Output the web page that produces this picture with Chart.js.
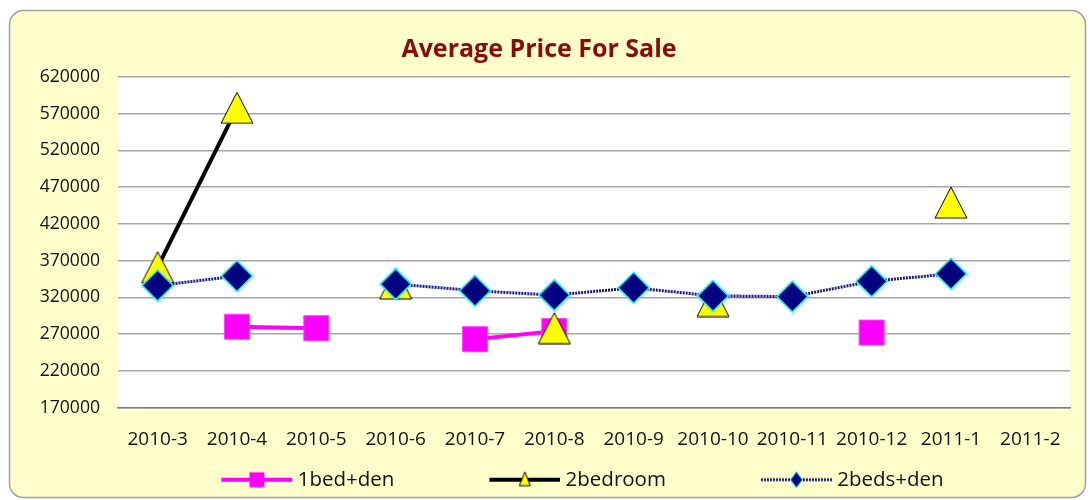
<!DOCTYPE html>
<html><head><meta charset="utf-8">
<script src="https://cdn.jsdelivr.net/npm/chart.js@4.4.0/dist/chart.umd.min.js"></script>
<style>html,body{margin:0;padding:0;background:#fff;overflow:hidden}#wrap{position:absolute;left:0;top:0;width:1090px;height:500px}</style>
</head><body><div id="wrap"><canvas id="c" width="1090" height="500"></canvas></div>
<script>
const categories = ['2010-3','2010-4','2010-5','2010-6','2010-7','2010-8','2010-9','2010-10','2010-11','2010-12','2011-1','2011-2'];
const oneBedDen  = [null, 280000, 278000, null, 263000, 274000, null, null, null, 272000, null, null];
const twoBedroom = [361000, 578000, null, 339000, null, 278000, null, 315000, null, null, 449000, null];
const twoBedsDen = [336000, 349000, null, 338000, 329000, 323000, 333000, 322000, 321000, 342000, 352000, null];
const seriesNames = ['1bed+den', '2bedroom', '2beds+den'];
const chartTitle = 'Average Price For Sale';
const yMin = 170000, yMax = 620000, yStep = 50000;

Chart.defaults.font.family = "'Open Sans', 'DejaVu Sans', sans-serif";

function makeCanvas(w, h, draw) { const c = document.createElement('canvas'); c.width = w; c.height = h; draw(c.getContext('2d')); return c; }

const triMarker = makeCanvas(34, 33, g => {
  g.beginPath(); g.moveTo(17, 1); g.lineTo(33, 32); g.lineTo(1, 32); g.closePath();
  g.fillStyle = '#FFFF00'; g.fill(); g.lineWidth = 1; g.strokeStyle = '#000'; g.stroke();
});

const LW = 163, LH = 24, S0 = LW - 71;
function legendImg(lineFn, markFn) {
  return makeCanvas(LW, LH, g => { lineFn(g, S0, LW, LH / 2); markFn(g, S0 + 35.5, LH / 2); });
}
const legImgs = [
  legendImg((g, a, b, y) => { g.strokeStyle = '#FF00FF'; g.lineWidth = 4; g.beginPath(); g.moveTo(a, y); g.lineTo(b, y); g.stroke(); },
            (g, x, y) => { g.fillStyle = '#FF00FF'; g.fillRect(x - 7.5, y - 7.5, 15, 15); }),
  legendImg((g, a, b, y) => { g.strokeStyle = '#000'; g.lineWidth = 4; g.beginPath(); g.moveTo(a, y); g.lineTo(b, y); g.stroke(); },
            (g, x, y) => { g.beginPath(); g.moveTo(x, y - 8); g.lineTo(x + 5.5, y + 6); g.lineTo(x - 5.5, y + 6); g.closePath(); g.fillStyle = '#FFFF00'; g.fill(); g.strokeStyle = '#000'; g.lineWidth = 1; g.stroke(); }),
  legendImg((g, a, b, y) => { g.strokeStyle = '#1a1a8c'; g.lineWidth = 3; g.setLineDash([2, 1]); g.beginPath(); g.moveTo(a, y); g.lineTo(b, y); g.stroke(); g.setLineDash([]); },
            (g, x, y) => { g.beginPath(); g.moveTo(x, y - 8); g.lineTo(x + 6, y); g.lineTo(x, y + 8); g.lineTo(x - 6, y); g.closePath(); g.fillStyle = '#000080'; g.fill(); g.strokeStyle = '#00FFFF'; g.lineWidth = 1; g.stroke(); })
];

const bgPlugin = {
  id: 'bg',
  beforeDraw(chart) {
    const g = chart.ctx; g.save();
    g.fillStyle = '#fff'; g.fillRect(0, 0, chart.width, chart.height);
    g.beginPath(); g.roundRect(9.5, 10.5, 1076, 487, 14);
    g.fillStyle = '#FFFFCC'; g.fill(); g.strokeStyle = '#A0A0A0'; g.lineWidth = 1.5; g.stroke();
    const a = chart.chartArea; g.fillStyle = '#fff'; g.fillRect(a.left, a.top, a.right - a.left, a.bottom - a.top);
    g.restore();
  }
};

new Chart(document.getElementById('c'), {
  type: 'line',
  data: {
    labels: categories,
    datasets: [
      { label: seriesNames[0], data: oneBedDen, borderColor: '#FF00FF', borderWidth: 4, tension: 0, spanGaps: false,
        pointStyle: 'rect', pointRadius: 17.7, pointHoverRadius: 17.7, pointBackgroundColor: '#FF00FF', pointBorderColor: '#FF44FF', pointBorderWidth: 1, order: 2 },
      { label: seriesNames[1], data: twoBedroom, borderColor: '#000', borderWidth: 4, tension: 0, spanGaps: false,
        pointStyle: triMarker, pointRadius: 16, pointHoverRadius: 16, order: 1 },
      { label: seriesNames[2], data: twoBedsDen, borderColor: '#1a1a8c', borderWidth: 3, borderDash: [2, 1], tension: 0, spanGaps: false,
        pointStyle: 'rectRot', pointRadius: 15.5, pointHoverRadius: 15.5, pointBackgroundColor: '#000080', pointBorderColor: '#00FFFF', pointBorderWidth: 1.5, order: 0 }
    ]
  },
  options: {
    responsive: false, animation: false, events: [],
    layout: { padding: { left: 0, right: 12, top: 0, bottom: 0 } },
    plugins: {
      title: { display: true, text: chartTitle, color: '#8B0A0A', font: { size: 25, weight: 'bold' }, padding: { top: 35, bottom: 12 } },
      legend: {
        position: 'bottom',
        labels: {
          usePointStyle: true, pointStyleWidth: 153, boxHeight: 20, padding: 8, color: '#111', font: { size: 20.5 },
          generateLabels: chart => chart.data.datasets.map((ds, i) => ({
            text: ds.label, pointStyle: legImgs[i], fillStyle: 'transparent', strokeStyle: 'transparent', lineWidth: 0, hidden: false, datasetIndex: i, fontColor: '#111'
          }))
        }
      },
      tooltip: { enabled: false }
    },
    scales: {
      x: {
        offset: true,
        grid: { display: false, drawTicks: false },
        border: { display: true, color: '#808080', width: 1.5 },
        ticks: { padding: 21, color: '#111', font: { size: 19 }, maxRotation: 0, autoSkip: false },
        afterFit: s => { s.height = 54; }
      },
      y: {
        min: yMin, max: yMax,
        grid: { color: '#A6A6A6', lineWidth: 1.5, drawTicks: false },
        border: { display: false },
        ticks: { stepSize: yStep, padding: 18, color: '#111', font: { size: 17.6 }, callback: v => String(v) },
        afterFit: s => { s.width = 118; }
      }
    }
  },
  plugins: [bgPlugin]
});
</script></body></html>
